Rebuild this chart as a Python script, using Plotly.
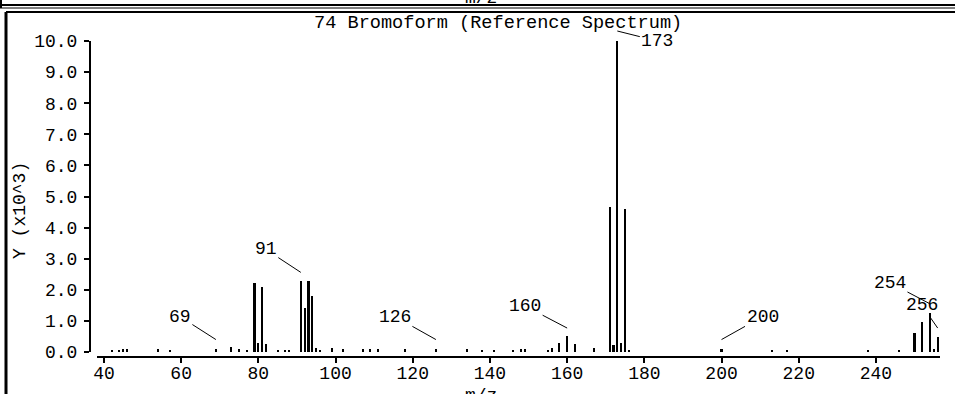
import plotly.graph_objects as go

# ---------------- data ----------------
mz = [42, 44, 45, 46, 54, 57, 69, 73, 75, 77, 79, 80, 81, 82, 85, 87, 88,
      91, 92, 93, 94, 95, 96, 99, 102, 107, 109, 111, 118, 126, 134, 138,
      141, 146, 148, 149, 155, 156, 158, 160, 162, 167, 171, 172, 173, 174,
      175, 176, 200, 213, 217, 238, 246, 250, 252, 254, 255, 256]
intensity = [0.08, 0.06, 0.10, 0.10, 0.10, 0.05, 0.10, 0.15, 0.10, 0.05,
             2.22, 0.30, 2.10, 0.25, 0.05, 0.08, 0.08,
             2.29, 1.42, 2.29, 1.80, 0.12, 0.05, 0.12, 0.10, 0.10, 0.10,
             0.10, 0.10, 0.10, 0.10, 0.05, 0.05, 0.05, 0.10, 0.10, 0.05,
             0.12, 0.30, 0.50, 0.27, 0.12, 4.66, 0.22, 10.0, 0.30, 4.60,
             0.05, 0.10, 0.05, 0.05, 0.05, 0.05, 0.60, 0.98, 1.25, 0.10, 0.47]

label_mz = [69, 91, 126, 160, 173, 200, 254, 256]
x_ticks = [40, 60, 80, 100, 120, 140, 160, 180, 200, 220, 240]
y_ticks = [0, 1, 2, 3, 4, 5, 6, 7, 8, 9, 10]
y_tick_text = ["%.1f" % v for v in y_ticks]

title_text = "74 Bromoform (Reference Spectrum)"
x_title = "m/z"
y_title = "Y (x10^3)"

# ---------------- layout helpers ----------------
W, H = 955, 394
def fx(p):
    return p / W
def fy(p):
    return 1 - p / H

FONT = "Liberation Mono"
FS = 18
fig = go.Figure()
fig.add_trace(go.Bar(x=mz, y=intensity, width=0.55,
                     marker=dict(color="#000000", line=dict(width=0)),
                     hoverinfo="x+y"))

# peak label offsets (pixels) - styling
lab_style = {
    69: (-36, -23, 0.30),
    91: (-35, -23, 0.27),
    126: (-41, -23, 0.30),
    160: (-42, -22, 0.27),
    200: (41, -23, 0.30),
    254: (-40, -21, 0.30),
    256: (-16, -23, 0.30),
}
val = dict(zip(mz, intensity))
annotations = []
for m in label_mz:
    if m == 173:
        # tip sits above the plot top, so reference it in paper space
        annotations.append(dict(
            x=m, y=fy(31), xref="x", yref="paper", text=str(m),
            showarrow=True, arrowhead=0, arrowwidth=1, arrowcolor="#000",
            ax=40, ay=10, standoff=0, startstandoff=0,
            font=dict(family=FONT, size=FS, color="#000")))
        continue
    ax, ay, dy = lab_style[m]
    annotations.append(dict(
        x=m, y=val[m] + dy, xref="x", yref="y", text=str(m),
        showarrow=True, arrowhead=0, arrowwidth=1, arrowcolor="#000",
        ax=ax, ay=ay, standoff=0, startstandoff=0,
        font=dict(family=FONT, size=FS, color="#000")))

annotations.append(dict(x=fx(498), y=fy(23), xref="paper", yref="paper",
                        xanchor="center", yanchor="middle",
                        text=title_text, showarrow=False,
                        font=dict(family=FONT, size=18.6, color="#000")))
annotations.append(dict(x=fx(20), y=fy(211), xref="paper", yref="paper",
                        xanchor="center", yanchor="middle",
                        text=y_title, showarrow=False, textangle=-90,
                        font=dict(family=FONT, size=FS, color="#000")))
annotations.append(dict(x=fx(481), y=fy(396), xref="paper", yref="paper",
                        xanchor="center", yanchor="middle", text=x_title, showarrow=False,
                        font=dict(family=FONT, size=FS, color="#000")))
annotations.append(dict(x=fx(481), y=fy(-2), xref="paper", yref="paper",
                        xanchor="center", yanchor="middle", text=x_title, showarrow=False,
                        font=dict(family=FONT, size=FS, color="#000")))

shapes = [
    dict(type="line", xref="paper", yref="paper", x0=0, x1=1, y0=fy(5), y1=fy(5),
         line=dict(color="#000", width=2)),
    dict(type="line", xref="paper", yref="paper", x0=0, x1=1, y0=fy(8), y1=fy(8),
         line=dict(color="#000", width=1)),
    dict(type="line", xref="paper", yref="paper", x0=fx(6), x1=1, y0=fy(12), y1=fy(12),
         line=dict(color="#000", width=2)),
    dict(type="line", xref="paper", yref="paper", x0=fx(6), x1=fx(6), y0=fy(12), y1=0,
         line=dict(color="#000", width=3)),
    dict(type="line", xref="paper", yref="paper", x0=fx(1), x1=fx(1), y0=1, y1=fy(8),
         line=dict(color="#000", width=2)),
]

fig.update_layout(
    width=W, height=H, autosize=False, template="none",
    margin=dict(l=0, r=0, t=0, b=0, pad=0),
    paper_bgcolor="#ffffff", plot_bgcolor="#ffffff",
    showlegend=False, bargap=0,
    annotations=annotations, shapes=shapes,
    font=dict(family=FONT, size=FS, color="#000"),
    xaxis=dict(domain=[fx(97), fx(940)], range=[38.2, 256.6],
               anchor="free", position=fy(357), automargin=False,
               showline=True, linecolor="#000", linewidth=2,
               ticks="outside", ticklen=5, tickwidth=1.5, tickcolor="#000",
               tickvals=x_ticks, ticktext=[str(v) for v in x_ticks],
               ticklabelstandoff=-6,
               showgrid=False, zeroline=False,
               tickfont=dict(family=FONT, size=FS, color="#000")),
    yaxis=dict(domain=[fy(352), fy(41)], range=[0, 10],
               anchor="free", position=fx(90), automargin=False,
               showline=True, linecolor="#000", linewidth=2,
               ticks="outside", ticklen=5, tickwidth=1.5, tickcolor="#000",
               tickvals=y_ticks, ticktext=y_tick_text,
               ticklabelstandoff=3,
               showgrid=False, zeroline=False,
               tickfont=dict(family=FONT, size=FS, color="#000")),
)

fig.write_html(
    "out.html",
    config={"displayModeBar": False},
    post_script="document.body.style.margin='0';document.body.style.padding='0';"
                "document.body.style.overflow='hidden';",
)
